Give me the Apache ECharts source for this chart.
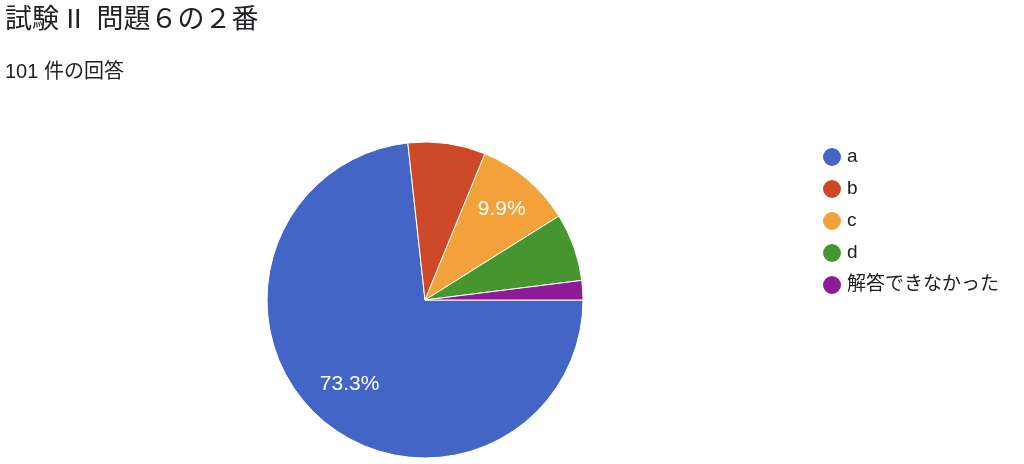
<!DOCTYPE html>
<html>
<head>
<meta charset="UTF-8">
<title>試験 II 問題６の２番</title>
<script type="text/javascript" src="https://cdn.jsdelivr.net/npm/echarts@6/dist/echarts.min.js"></script>
</head>
<body style="margin:0;background:#fff;">
	<div id="box" style="width: 1024px; height: 464px;"></div>

	<script type="text/javascript">
		// 回答データ（101 件）
		var names = ['a', 'b', 'c', 'd', '解答できなかった'];
		var counts = [74, 8, 10, 7, 2];
		var colors = ['#4366c6', '#cc4827', '#f2a13b', '#45962f', '#8e1a98'];
		var total = 101;

		var font = '"Liberation Sans", "Noto Sans CJK JP", sans-serif';

		var pieData = [];
		for (var i = 0; i < names.length; i++) {
			pieData.push({ name: names[i], value: counts[i], itemStyle: { color: colors[i] } });
		}

		var myChart = echarts.init(document.getElementById('box'));
		myChart.setOption({
			animation: false,
			title: [{
				text: '試験 II  問題６の２番',
				left: 0, top: 2,
				textStyle: { fontFamily: font, fontSize: 27, fontWeight: 'normal', color: '#202124' }
			}, {
				text: total + ' 件の回答',
				left: 0, top: 57,
				textStyle: { fontFamily: font, fontSize: 20, fontWeight: 'normal', color: '#202124' }
			}],
			legend: {
				orient: 'vertical',
				left: 816, top: 141,
				icon: 'circle',
				itemWidth: 20, itemHeight: 20,
				itemGap: 10,
				itemTextGap: 9,
				data: names,
				textStyle: { fontFamily: font, fontSize: 19, color: '#202124' }
			},
			series: [{
				type: 'pie',
				center: [425, 300],
				radius: [0, 158],
				startAngle: 0,
				clockwise: true,
				itemStyle: { borderColor: '#fff', borderWidth: 1 },
				label: { show: false },
				labelLine: { show: false },
				emphasis: { disabled: true },
				data: pieData
			}, {
				// 割合ラベル用の透明な層
				type: 'pie',
				center: [427, 298],
				radius: [100, 126],
				startAngle: 0,
				clockwise: true,
				silent: true,
				legendHoverLink: false,
				itemStyle: { color: 'transparent', borderWidth: 0 },
				label: {
					show: true,
					position: 'inside',
					fontFamily: font,
					fontSize: 21,
					color: '#fff',
					formatter: function (p) {
						var pct = p.value / total * 100;
						return pct >= 9 ? pct.toFixed(1) + '%' : '';
					}
				},
				labelLine: { show: false },
				emphasis: { disabled: true },
				data: counts.map(function (v, i) { return { name: names[i] + ' ', value: v }; })
			}]
		});
	</script>
</body>
</html>
